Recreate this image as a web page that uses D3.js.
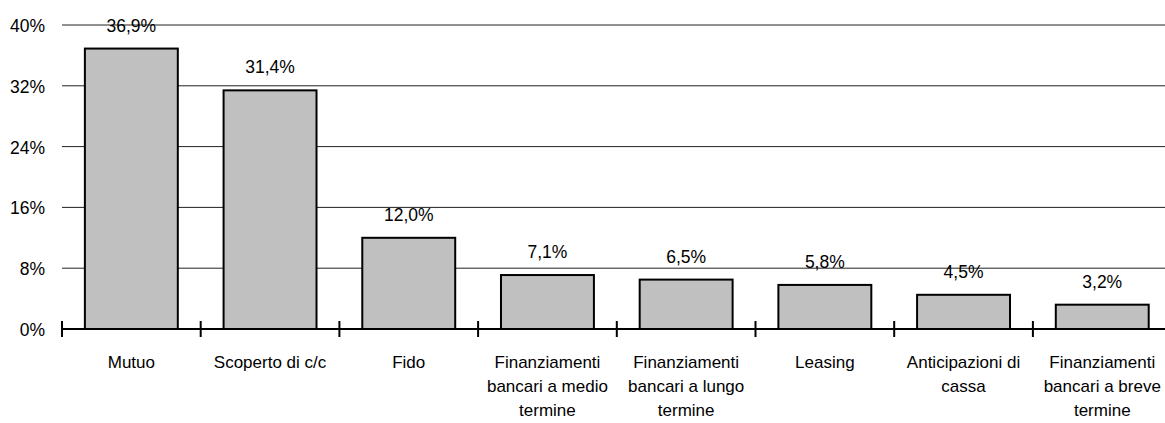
<!DOCTYPE html>
<html>
<head>
<meta charset="utf-8">
<script src="https://cdn.jsdelivr.net/npm/d3@7"></script>
<style>
  body { margin: 0; background: #fff; }
  text { font-family: "Liberation Sans", Arial, sans-serif; fill: #000; }
</style>
</head>
<body>
<svg id="chart" width="1165" height="423"></svg>
<script>
// data
const categories = [
  ["Mutuo"],
  ["Scoperto di c/c"],
  ["Fido"],
  ["Finanziamenti", "bancari a medio", "termine"],
  ["Finanziamenti", "bancari a lungo", "termine"],
  ["Leasing"],
  ["Anticipazioni di", "cassa"],
  ["Finanziamenti", "bancari a breve", "termine"]
];
const values = [36.9, 31.4, 12.0, 7.1, 6.5, 5.8, 4.5, 3.2];
const yTicks = [0, 8, 16, 24, 32, 40];

const svg = d3.select('#chart');
const left = 62, step = 138.7;
const x = d3.scaleBand()
    .domain(d3.range(categories.length))
    .range([left, left + step * categories.length])
    .paddingInner(0.33).paddingOuter(0.165);
const y = d3.scaleLinear().domain([0, 40]).range([329, 25]);

// gridlines
svg.append('g').selectAll('line')
    .data(yTicks.filter(d => d > 0))
    .enter().append('line')
    .attr('x1', left).attr('x2', 1165)
    .attr('y1', d => y(d)).attr('y2', d => y(d))
    .attr('stroke', '#222').attr('stroke-width', 1);

// y tick labels
svg.append('g').selectAll('text')
    .data(yTicks)
    .enter().append('text')
    .attr('x', 45)
    .attr('y', d => y(d) + 7)
    .attr('text-anchor', 'end')
    .style('font-size', '17.5px')
    .text(d => d + '%');

// bars
svg.append('g').selectAll('rect')
    .data(values)
    .enter().append('rect')
    .attr('x', (d, i) => x(i))
    .attr('y', d => y(d))
    .attr('width', x.bandwidth())
    .attr('height', d => y(0) - y(d))
    .attr('fill', '#c0c0c0')
    .attr('stroke', '#000')
    .attr('stroke-width', 2);

// value labels
svg.append('g').selectAll('text')
    .data(values)
    .enter().append('text')
    .attr('x', (d, i) => x(i) + x.bandwidth() / 2)
    .attr('y', d => y(d) - 17)
    .attr('text-anchor', 'middle')
    .style('font-size', '17.5px')
    .text(d => d.toFixed(1).replace('.', ',') + '%');

// x axis line and ticks
svg.append('line')
    .attr('x1', left).attr('x2', 1165)
    .attr('y1', y(0)).attr('y2', y(0))
    .attr('stroke', '#000').attr('stroke-width', 2);

svg.append('g').selectAll('line')
    .data(d3.range(categories.length + 1))
    .enter().append('line')
    .attr('x1', i => left + i * step).attr('x2', i => left + i * step)
    .attr('y1', y(0) - 8).attr('y2', y(0) + 8)
    .attr('stroke', '#000').attr('stroke-width', 2);

// category labels
const cat = svg.append('g').selectAll('text')
    .data(categories)
    .enter().append('text')
    .attr('text-anchor', 'middle')
    .style('font-size', '17px');
cat.selectAll('tspan')
    .data((d, i) => d.map(line => ({ line, i })))
    .enter().append('tspan')
    .attr('x', d => x(d.i) + x.bandwidth() / 2)
    .attr('y', (d, j) => 368 + j * 24)
    .text(d => d.line);
</script>
</body>
</html>
